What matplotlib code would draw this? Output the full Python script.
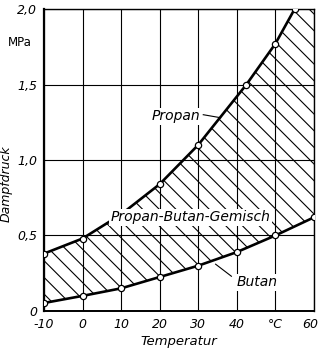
import matplotlib
matplotlib.use("Agg")
import matplotlib.pyplot as plt
from matplotlib.transforms import ScaledTranslation

# --- Daten ---
propan_t = [-10, 0, 10, 20, 30, 42.5, 50, 55]
propan_p = [0.38, 0.48, 0.64, 0.84, 1.10, 1.50, 1.77, 2.00]

butan_t = [-10, 0, 10, 20, 30, 40, 50, 60]
butan_p = [0.053, 0.10, 0.15, 0.225, 0.30, 0.39, 0.50, 0.62]

x_ticks = [-10, 0, 10, 20, 30, 40, 50, 60]
x_labels = ["-10", "0", "10", "20", "30", "40", "°C", "60"]
y_ticks = [0, 0.5, 1.0, 1.5, 2.0]
y_labels = ["0", "0,5", "1,0", "1,5", "2,0"]

x_min, x_max = -10, 60
y_min, y_max = 0, 2.0

fam = ["Liberation Sans Narrow", "DejaVu Sans"]
plt.rcParams["font.family"] = fam
plt.rcParams["hatch.linewidth"] = 0.8

fig = plt.figure(figsize=(3.2, 3.55), dpi=100)
ax = fig.add_axes([0.1375, 0.124, 0.8435, 0.8506])

# schraffierte Fläche zwischen Propan und Butan (oben bis zum Rand bei 2,0)
poly_x = propan_t + [x_max] + butan_t[::-1]
poly_y = propan_p + [y_max] + butan_p[::-1]
ax.fill(poly_x, poly_y, facecolor="white", edgecolor="black", linewidth=0,
        hatch="\\\\", zorder=1)

ax.plot(propan_t, propan_p, color="black", lw=1.9, zorder=3,
        marker="o", ms=4.5, mfc="white", mec="black", mew=0.9)
ax.plot(butan_t, butan_p, color="black", lw=1.9, zorder=3,
        marker="o", ms=4.5, mfc="white", mec="black", mew=0.9)

ax.set_xlim(x_min, x_max)
ax.set_ylim(y_min, y_max)
ax.set_xticks(x_ticks)
ax.set_xticklabels(x_labels, style="italic", fontsize=9)
ax.set_yticks(y_ticks)
ax.set_yticklabels(y_labels, style="italic", fontsize=9)
ax.tick_params(length=0, pad=5)
# letzte Beschriftung ("60") etwas nach links, damit sie nicht abgeschnitten wird
lab = ax.get_xticklabels()[-1]
lab.set_transform(lab.get_transform() + ScaledTranslation(-3 / 72, 0, fig.dpi_scale_trans))
ax.grid(True, color="black", lw=0.8, zorder=2)
ax.set_axisbelow(False)
for s in ax.spines.values():
    s.set_linewidth(1.0)
ax.spines["left"].set_linewidth(1.6)
ax.spines["bottom"].set_linewidth(1.4)

ax.set_xlabel("Temperatur", style="italic", fontsize=9.5, labelpad=3)
ax.set_ylabel("Dampfdruck", style="italic", fontsize=9)
ax.yaxis.set_label_coords(-0.115, 0.42)
fig.text(0.0625, 0.88, "MPa", fontsize=8.5, ha="center", va="center")

# Beschriftungen
ax.text(18, 1.29, "Propan", style="italic", fontsize=10, ha="left", va="center",
        bbox=dict(facecolor="white", edgecolor="none", pad=1), zorder=4)
ax.plot([31.3, 35.8], [1.30, 1.28], color="black", lw=0.8, zorder=4)

ax.text(28, 0.62, "Propan-Butan-Gemisch", style="italic", fontsize=10,
        ha="center", va="center",
        bbox=dict(facecolor="white", edgecolor="none", pad=1), zorder=4)

ax.text(40, 0.19, "Butan", style="italic", fontsize=10, ha="left", va="center",
        bbox=dict(facecolor="white", edgecolor="none", pad=1), zorder=4)
ax.plot([38.6, 34.5], [0.23, 0.31], color="black", lw=0.8, zorder=4)

fig.savefig("out.png", dpi=100)
